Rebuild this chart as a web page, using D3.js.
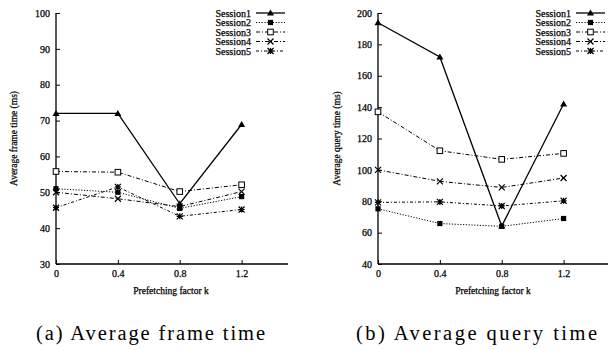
<!DOCTYPE html>
<html>
<head>
<meta charset="utf-8">
<script src="https://cdn.jsdelivr.net/npm/d3@7"></script>
<style>
  html, body { margin: 0; padding: 0; background: #fff; }
  svg text { font-family: "Liberation Serif", "Times New Roman", serif; fill: #000; }
  svg .gp { stroke: #000; stroke-width: 0.25px; }
</style>
</head>
<body>
<div id="vis-display" style="width:608px;height:350px;"></div>
<script>
// Two gnuplot-style line charts side by side: frame time and query time vs. prefetching factor k.

const K_VALUES = [0, 0.4, 0.8, 1.2];
const SESSIONS = ["Session1", "Session2", "Session3", "Session4", "Session5"];

// (a) average frame time (ms)
const FRAME_S1 = [72.0, 72.0, 46.8, 68.9];
const FRAME_S2 = [51.0, 50.0, 45.5, 48.8];
const FRAME_S3 = [55.8, 55.6, 50.2, 52.1];
const FRAME_S4 = [50.0, 48.2, 46.0, 50.2];
const FRAME_S5 = [45.7, 51.5, 43.3, 45.2];
const FRAME_TICKS = [30, 40, 50, 60, 70, 80, 90, 100];

// (b) average query time (ms)
const QUERY_S1 = [193.8, 172.0, 64.2, 142.0];
const QUERY_S2 = [75.2, 65.8, 64.0, 69.0];
const QUERY_S3 = [137.0, 112.2, 106.7, 110.5];
const QUERY_S4 = [100.0, 92.7, 88.8, 94.8];
const QUERY_S5 = [79.3, 79.6, 77.0, 80.3];
const QUERY_TICKS = [40, 60, 80, 100, 120, 140, 160, 180, 200];

const X_TICKS = [0, 0.4, 0.8, 1.2];

// line dash / marker per session (gnuplot look)
const STYLE = {
  Session1: { dash: null,      width: 1.3, marker: "triangle" },
  Session2: { dash: "1.2,1.6", width: 1,   marker: "fsquare"  },
  Session3: { dash: "4,2,1,2", width: 1,   marker: "osquare"  },
  Session4: { dash: "4,2,1,2", width: 1,   marker: "cross"    },
  Session5: { dash: "3,2,1,2", width: 1,   marker: "star"     },
};

const svg = d3.select("#vis-display").append("svg")
  .attr("width", 608).attr("height", 350);

function drawMarker(g, type, x, y) {
  const s = 3;
  if (type === "triangle") {
    g.append("path").attr("d", `M${x},${y - s - 0.5}L${x + s + 0.5},${y + s - 0.5}L${x - s - 0.5},${y + s - 0.5}Z`)
      .attr("fill", "#000");
  } else if (type === "fsquare") {
    g.append("rect").attr("x", x - 2.6).attr("y", y - 2.6).attr("width", 5.2).attr("height", 5.2).attr("fill", "#000");
  } else if (type === "osquare") {
    g.append("rect").attr("x", x - 2.8).attr("y", y - 2.8).attr("width", 5.6).attr("height", 5.6)
      .attr("fill", "#fff").attr("stroke", "#000").attr("stroke-width", 1);
  } else if (type === "cross") {
    g.append("path").attr("d", `M${x - s},${y - s}L${x + s},${y + s}M${x - s},${y + s}L${x + s},${y - s}`)
      .attr("stroke", "#000").attr("stroke-width", 1.2);
  } else if (type === "star") {
    g.append("path").attr("d",
      `M${x - s},${y - s}L${x + s},${y + s}M${x - s},${y + s}L${x + s},${y - s}M${x - s},${y}L${x + s},${y}M${x},${y - s}L${x},${y + s}`)
      .attr("stroke", "#000").attr("stroke-width", 1.2);
  }
}

function panel(opts) {
  const { left, right, top, bottom, yDomain, yTicks, series, yLabel, caption, capLen, legendX, ylabelX, captionX } = opts;

  const x = d3.scaleLinear().domain([0, 1.5]).range([left, right]);
  const y = d3.scaleLinear().domain(yDomain).range([bottom, top]);

  const g = svg.append("g");

  // axes (inward ticks, left + bottom border only)
  const yAxis = d3.axisLeft(y).tickValues(yTicks).tickSize(-4).tickPadding(6).tickFormat(d3.format("d"));
  g.append("g").attr("transform", `translate(${left},0)`).call(yAxis)
    .call(ax => ax.select(".domain").attr("stroke", "#000").attr("stroke-width", 1.3).attr("d", `M0,${top}V${bottom}`))
    .call(ax => ax.selectAll(".tick line").attr("stroke", "#000"))
    .selectAll("text").attr("class", "gp").style("font-size", "10px").style("font-family", "Liberation Serif");

  const xAxis = d3.axisBottom(x).tickValues(X_TICKS).tickSize(-4).tickPadding(6).tickFormat(d => d === 0 ? "0" : d3.format(".1f")(d));
  g.append("g").attr("transform", `translate(0,${bottom})`).call(xAxis)
    .call(ax => ax.select(".domain").attr("stroke", "#000").attr("stroke-width", 1.3).attr("d", `M${left},0H${right}`))
    .call(ax => ax.selectAll(".tick line").attr("stroke", "#000"))
    .selectAll("text").attr("class", "gp").style("font-size", "10px").style("font-family", "Liberation Serif");

  // axis titles
  g.append("text")
    .attr("class", "gp")
    .attr("x", (left + right) / 2 - 1)
    .attr("y", bottom + 30)
    .attr("text-anchor", "middle")
    .style("font-size", "9.5px")
    .text("Prefetching factor k");

  g.append("text")
    .attr("class", "gp")
    .attr("transform", `translate(${ylabelX},${(top + bottom) / 2}) rotate(-90)`)
    .attr("text-anchor", "middle")
    .style("font-size", "9.5px")
    .text(yLabel);

  // series lines
  const line = d3.line().x((d, i) => x(K_VALUES[i])).y(d => y(d));
  series.forEach(({ name, values }) => {
    const st = STYLE[name];
    g.append("path")
      .attr("d", line(values))
      .attr("fill", "none")
      .attr("stroke", "#000")
      .attr("stroke-width", st.width)
      .attr("stroke-dasharray", st.dash);
  });
  series.forEach(({ name, values }) => {
    values.forEach((v, i) => drawMarker(g, STYLE[name].marker, x(K_VALUES[i]), y(v)));
  });

  // legend
  series.forEach(({ name }, i) => {
    const ly = 13 + i * 9.5;
    const st = STYLE[name];
    g.append("text")
      .attr("class", "gp")
      .attr("x", legendX)
      .attr("y", ly + 3.5)
      .attr("text-anchor", "end")
      .style("font-size", "10px")
      .text(name);
    g.append("line")
      .attr("x1", legendX + 5).attr("x2", legendX + 34)
      .attr("y1", ly).attr("y2", ly)
      .attr("stroke", "#000").attr("stroke-width", st.width)
      .attr("stroke-dasharray", st.dash);
    drawMarker(g, st.marker, legendX + 19.5, ly);
  });

  // caption
  svg.append("text")
    .attr("x", captionX)
    .attr("y", 340)
    .style("font-size", "20.5px")
    .attr("textLength", capLen)
    .attr("lengthAdjust", "spacing")
    .text(caption);
}

panel({
  left: 56, right: 288, top: 13, bottom: 264,
  yDomain: [30, 100], yTicks: FRAME_TICKS,
  series: [
    { name: SESSIONS[0], values: FRAME_S1 },
    { name: SESSIONS[1], values: FRAME_S2 },
    { name: SESSIONS[2], values: FRAME_S3 },
    { name: SESSIONS[3], values: FRAME_S4 },
    { name: SESSIONS[4], values: FRAME_S5 },
  ],
  yLabel: "Average frame time (ms)",
  caption: "(a) Average frame time", capLen: 229,
  legendX: 251, ylabelX: 17, captionX: 36,
});

panel({
  left: 378, right: 610, top: 13, bottom: 264,
  yDomain: [40, 200], yTicks: QUERY_TICKS,
  series: [
    { name: SESSIONS[0], values: QUERY_S1 },
    { name: SESSIONS[1], values: QUERY_S2 },
    { name: SESSIONS[2], values: QUERY_S3 },
    { name: SESSIONS[3], values: QUERY_S4 },
    { name: SESSIONS[4], values: QUERY_S5 },
  ],
  yLabel: "Average query time (ms)",
  caption: "(b) Average query time", capLen: 241,
  legendX: 571, ylabelX: 340, captionX: 356,
});
</script>
</body>
</html>
